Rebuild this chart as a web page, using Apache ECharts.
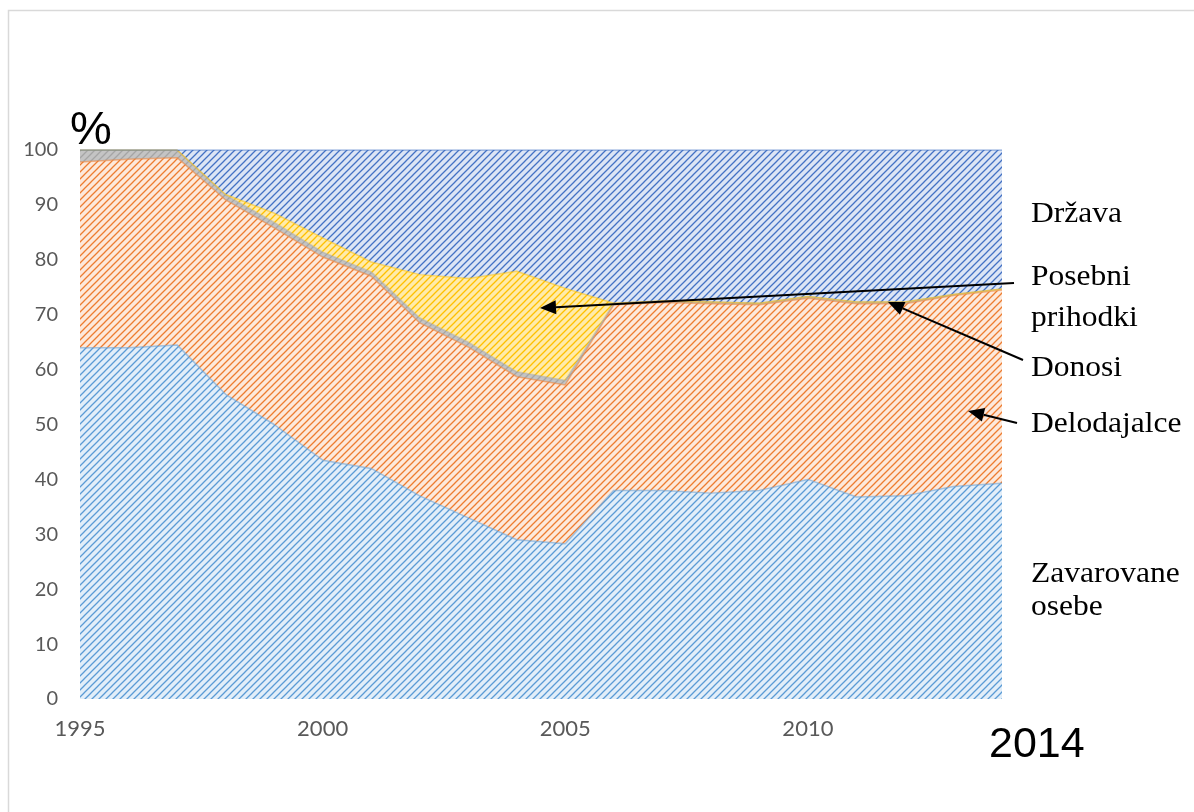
<!DOCTYPE html>
<html><head><meta charset="utf-8">
<script src="https://cdn.jsdelivr.net/npm/echarts@6/dist/echarts.min.js"></script>
<style>html,body{margin:0;padding:0;background:#fff}#c{width:1194px;height:812px}</style>
</head><body><div id="c"></div>
<script>
const years = ['1995','1996','1997','1998','1999','2000','2001','2002','2003','2004','2005','2006','2007','2008','2009','2010','2011','2012','2013','2014'];
const zavarovaneOsebe = [64, 64, 64.5, 55.5, 50, 43.5, 42, 37, 33, 29, 28.3, 38, 38, 37.5, 38, 40, 36.8, 37, 38.7, 39.3];
const delodajalce = [33.8, 34.3, 34.1, 35.4, 35.8, 37, 35, 31.5, 31.1, 29.7, 28.9, 33.8, 34.2, 34.5, 33.8, 33, 35.2, 35, 34.8, 35.2];
const donosi = [2.2, 1.7, 1.4, 0.9, 1.0, 0.9, 0.8, 0.9, 0.9, 0.9, 0.8, 0.3, 0.3, 0.3, 0.3, 0.3, 0.3, 0.3, 0.2, 0.2];
const posebniPrihodki = [0, 0, 0, 0.1, 1.7, 2.6, 1.8, 7.9, 11.6, 18.3, 16.8, 0, 0, 0, 0, 0, 0, 0, 0, 0];
const drzava = [0, 0, 0, 8.1, 11.5, 16, 20.4, 22.7, 23.4, 22.1, 25.2, 27.9, 27.5, 27.7, 27.9, 26.7, 27.7, 27.7, 26.3, 25.3];
const yTicks = [0, 10, 20, 30, 40, 50, 60, 70, 80, 90, 100];

function pattern(fg, bg) {
  const s = 7;
  const c = document.createElement('canvas');
  c.width = s; c.height = s;
  const g = c.getContext('2d');
  g.fillStyle = bg; g.fillRect(0, 0, s, s);
  g.strokeStyle = fg; g.lineWidth = 1.3;
  g.beginPath();
  g.moveTo(-1, s + 1); g.lineTo(s + 1, -1);
  g.moveTo(-1, 1); g.lineTo(1, -1);
  g.moveTo(s - 1, s + 1); g.lineTo(s + 1, s - 1);
  g.stroke();
  return { image: c, repeat: 'repeat' };
}

const defs = [
  { name: 'Zavarovane osebe', data: zavarovaneOsebe, fg: '#5B9BD5', bg: '#E2EEF9' },
  { name: 'Delodajalce', data: delodajalce, fg: '#ED7D31', bg: '#FDE9DB' },
  { name: 'Donosi', data: donosi, fg: '#A5A5A5', bg: '#C4C4C4' },
  { name: 'Posebni prihodki', data: posebniPrihodki, fg: '#FFC000', bg: '#FFEBAA' },
  { name: 'Država', data: drzava, fg: '#4472C4', bg: '#DCE5F5' }
];

function arrow(sx, sy, tx, ty) {
  const dx = tx - sx, dy = ty - sy, L = Math.hypot(dx, dy);
  const ux = dx / L, uy = dy / L, hl = 16, hw = 7;
  const bx = tx - ux * hl, by = ty - uy * hl;
  return [
    { type: 'line', silent: true, z: 100, shape: { x1: sx, y1: sy, x2: bx, y2: by }, style: { stroke: '#000', lineWidth: 2 } },
    { type: 'polygon', silent: true, z: 100, shape: { points: [[tx, ty], [bx - uy * hw, by + ux * hw], [bx + uy * hw, by - ux * hw]] }, style: { fill: '#000' } }
  ];
}

function label(text, x, y, opts) {
  const o = Object.assign({ size: 30, family: '"Liberation Serif", "Times New Roman", serif', scaleX: 1.05 }, opts || {});
  return { type: 'text', silent: true, z: 100, x: x, y: y, scaleX: o.scaleX,
    style: { text: text, font: o.size + 'px ' + o.family, fill: '#000', align: 'left', textAlign: 'left', verticalAlign: 'middle', textVerticalAlign: 'middle' } };
}

const chart = echarts.init(document.getElementById('c'), null, { renderer: 'canvas' });
chart.setOption({
  animation: false,
  backgroundColor: '#fff',
  grid: { left: 80, right: 192, top: 150, bottom: 113 },
  xAxis: {
    type: 'category', data: years, boundaryGap: false,
    axisLine: { show: false }, axisTick: { show: false },
    axisLabel: { interval: 4, color: '#595959', fontSize: 22, fontFamily: 'Lato, "Open Sans", sans-serif', margin: 19 },
    splitLine: { show: false }
  },
  yAxis: {
    type: 'value', min: 0, max: 100, interval: 10,
    axisLine: { show: false }, axisTick: { show: false }, splitLine: { show: false },
    axisLabel: { color: '#595959', fontSize: 20, fontFamily: 'Lato, "Open Sans", sans-serif', margin: 22,
      formatter: v => yTicks.includes(v) ? String(v) : '' }
  },
  series: defs.map(d => ({
    name: d.name, type: 'line', stack: 'total', data: d.data,
    showSymbol: false, symbol: 'none', smooth: false,
    lineStyle: { color: d.fg, width: 1.5, opacity: 0.55 },
    areaStyle: { color: pattern(d.fg, d.bg), opacity: 1 },
    emphasis: { disabled: true }, silent: true
  })),
  graphic: [
    { type: 'rect', silent: true, z: 100, shape: { x: 8.5, y: 10.5, width: 1400, height: 1000 }, style: { fill: 'none', stroke: '#D9D9D9', lineWidth: 1.5 } },
    label('%', 70, 131, { size: 47, family: '"Liberation Sans", Arial, sans-serif', scaleX: 1 }),
    label('2014', 989, 745, { size: 43, family: '"Liberation Sans", Arial, sans-serif', scaleX: 1 }),
    label('Država', 1031, 214),
    label('Posebni', 1031, 277),
    label('prihodki', 1031, 318),
    label('Donosi', 1031, 368),
    label('Delodajalce', 1031, 424),
    label('Zavarovane', 1031, 574),
    label('osebe', 1031, 607),
    ...arrow(1014, 283, 540, 308),
    ...arrow(1023, 360, 888, 302),
    ...arrow(1017, 423, 968, 411)
  ]
});
</script></body></html>
